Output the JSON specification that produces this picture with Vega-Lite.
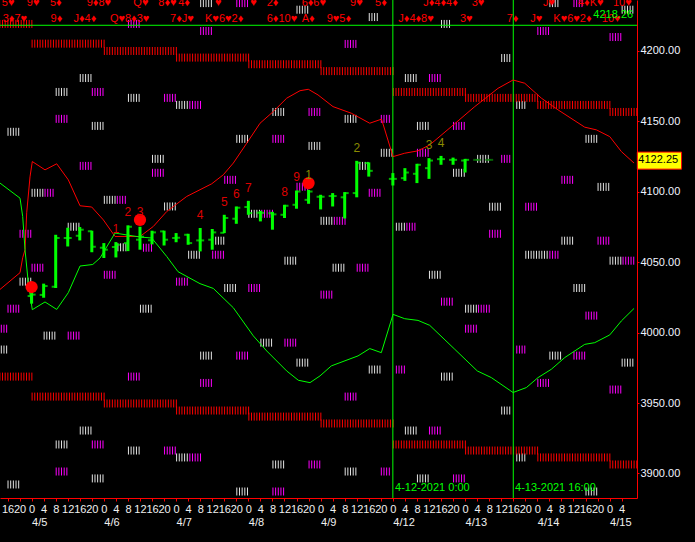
{
"$schema": "https://vega.github.io/schema/vega-lite/v6.json",
"width": 637, "height": 498,
"autosize": {"type": "none"},
"padding": {"left": 0, "top": 0, "right": 58, "bottom": 44},
"background": "#000000",
"config": {"view": {"stroke": null}},
"datasets": {
"bands": [
{"h":-10.5,"p":4030.7,"b":"u"},{"h":-3.85,"p":4042.6,"b":"u"},{"h":-2.96,"p":4053.2,"b":"u"},{"h":-2.19,"p":4058.9,"b":"u"},{"h":-1.63,"p":4085.1,"b":"u"},{"h":-0.53,"p":4110.6,"b":"u"},{"h":0.23,"p":4121.5,"b":"u"},{"h":4.45,"p":4115.6,"b":"u"},{"h":8.34,"p":4119.9,"b":"u"},{"h":12.19,"p":4108.5,"b":"u"},{"h":16.08,"p":4090.1,"b":"u"},{"h":19.97,"p":4089.2,"b":"u"},{"h":23.82,"p":4080.1,"b":"u"},{"h":27.71,"p":4068.3,"b":"u"},{"h":36.01,"p":4068.3,"b":"u"},{"h":40.43,"p":4075.4,"b":"u"},{"h":44.88,"p":4086.0,"b":"u"},{"h":51.52,"p":4096.7,"b":"u"},{"h":59.83,"p":4105.7,"b":"u"},{"h":63.68,"p":4112.1,"b":"u"},{"h":67.0,"p":4120.4,"b":"u"},{"h":71.46,"p":4134.5,"b":"u"},{"h":75.88,"p":4148.7,"b":"u"},{"h":80.29,"p":4157.0,"b":"u"},{"h":84.74,"p":4166.5,"b":"u"},{"h":89.16,"p":4171.8,"b":"u"},{"h":91.92,"p":4172.8,"b":"u"},{"h":95.14,"p":4168.8,"b":"u"},{"h":100.12,"p":4160.5,"b":"u"},{"h":106.2,"p":4155.8,"b":"u"},{"h":112.32,"p":4148.7,"b":"u"},{"h":116.24,"p":4151.6,"b":"u"},{"h":120.06,"p":4125.0,"b":"u"},{"h":123.94,"p":4127.4,"b":"u"},{"h":128.36,"p":4129.1,"b":"u"},{"h":132.25,"p":4133.3,"b":"u"},{"h":139.43,"p":4146.3,"b":"u"},{"h":147.2,"p":4160.5,"b":"u"},{"h":154.94,"p":4173.5,"b":"u"},{"h":159.93,"p":4179.4,"b":"u"},{"h":163.81,"p":4177.1,"b":"u"},{"h":169.33,"p":4166.5,"b":"u"},{"h":174.87,"p":4158.2,"b":"u"},{"h":183.74,"p":4145.9,"b":"u"},{"h":187.6,"p":4144.0,"b":"u"},{"h":192.05,"p":4139.2,"b":"u"},{"h":195.9,"p":4128.6,"b":"u"},{"h":200.12,"p":4120.4,"b":"u"},
{"h":-10.5,"p":4106.2,"b":"l"},{"h":-3.85,"p":4095.5,"b":"l"},{"h":-2.96,"p":4082.5,"b":"l"},{"h":-2.19,"p":4058.9,"b":"l"},{"h":-1.1,"p":4035.3,"b":"l"},{"h":0.23,"p":4016.3,"b":"l"},{"h":4.45,"p":4021.8,"b":"l"},{"h":8.34,"p":4016.5,"b":"l"},{"h":12.19,"p":4028.4,"b":"l"},{"h":16.08,"p":4047.3,"b":"l"},{"h":20.3,"p":4048.4,"b":"l"},{"h":22.72,"p":4053.0,"b":"l"},{"h":27.71,"p":4070.7,"b":"l"},{"h":36.01,"p":4067.9,"b":"l"},{"h":39.9,"p":4067.2,"b":"l"},{"h":44.88,"p":4054.1,"b":"l"},{"h":48.63,"p":4043.3,"b":"l"},{"h":55.94,"p":4034.8,"b":"l"},{"h":60.36,"p":4031.4,"b":"l"},{"h":67.0,"p":4017.7,"b":"l"},{"h":73.65,"p":3997.7,"b":"l"},{"h":78.1,"p":3987.0,"b":"l"},{"h":84.74,"p":3972.8,"b":"l"},{"h":88.6,"p":3966.2,"b":"l"},{"h":92.48,"p":3964.5,"b":"l"},{"h":95.8,"p":3969.3,"b":"l"},{"h":99.56,"p":3976.4,"b":"l"},{"h":108.43,"p":3983.5,"b":"l"},{"h":112.32,"p":3988.7,"b":"l"},{"h":116.17,"p":3985.8,"b":"l"},{"h":120.06,"p":4013.0,"b":"l"},{"h":123.94,"p":4009.9,"b":"l"},{"h":128.36,"p":4008.7,"b":"l"},{"h":132.25,"p":4005.2,"b":"l"},{"h":140.56,"p":3988.2,"b":"l"},{"h":148.06,"p":3972.8,"b":"l"},{"h":152.71,"p":3968.1,"b":"l"},{"h":159.93,"p":3957.5,"b":"l"},{"h":164.34,"p":3961.0,"b":"l"},{"h":168.23,"p":3968.1,"b":"l"},{"h":172.64,"p":3974.0,"b":"l"},{"h":177.09,"p":3982.3,"b":"l"},{"h":183.74,"p":3991.7,"b":"l"},{"h":187.06,"p":3992.9,"b":"l"},{"h":192.05,"p":3998.4,"b":"l"},{"h":195.9,"p":4008.3,"b":"l"},{"h":200.12,"p":4017.2,"b":"l"}
],
"bars": [
{"h":0,"o":4026.0,"hi":4030.0,"lo":4020.6,"cl":4027.0,"k":"live"},
{"h":4,"o":4026.8,"hi":4034.8,"lo":4024.8,"cl":4033.1,"k":"live"},
{"h":8,"o":4032.6,"hi":4069.5,"lo":4031.7,"cl":4067.2,"k":"live"},
{"h":12,"o":4067.2,"hi":4074.5,"lo":4061.2,"cl":4067.2,"k":"live"},
{"h":16,"o":4068.8,"hi":4075.0,"lo":4065.5,"cl":4073.1,"k":"live"},
{"h":20,"o":4072.0,"hi":4072.4,"lo":4057.1,"cl":4061.0,"k":"live"},
{"h":24,"o":4060.3,"hi":4063.6,"lo":4053.0,"cl":4058.9,"k":"live"},
{"h":28,"o":4060.8,"hi":4064.3,"lo":4053.4,"cl":4062.4,"k":"live"},
{"h":32,"o":4063.6,"hi":4076.2,"lo":4057.9,"cl":4075.2,"k":"live"},
{"h":36,"o":4066.0,"hi":4075.2,"lo":4058.9,"cl":4068.1,"k":"live"},
{"h":40,"o":4065.6,"hi":4072.4,"lo":4062.7,"cl":4071.2,"k":"live"},
{"h":44,"o":4071.9,"hi":4072.4,"lo":4061.9,"cl":4066.0,"k":"live"},
{"h":48,"o":4067.2,"hi":4070.7,"lo":4064.2,"cl":4067.4,"k":"live"},
{"h":52,"o":4069.5,"hi":4070.2,"lo":4062.4,"cl":4063.6,"k":"live"},
{"h":56,"o":4065.5,"hi":4074.3,"lo":4057.7,"cl":4065.5,"k":"live"},
{"h":60,"o":4066.0,"hi":4073.6,"lo":4058.9,"cl":4071.2,"k":"live"},
{"h":64,"o":4070.9,"hi":4083.7,"lo":4070.7,"cl":4081.4,"k":"live"},
{"h":68,"o":4080.9,"hi":4089.6,"lo":4077.3,"cl":4088.7,"k":"live"},
{"h":72,"o":4089.2,"hi":4093.6,"lo":4083.7,"cl":4084.9,"k":"live"},
{"h":76,"o":4085.1,"hi":4086.5,"lo":4079.0,"cl":4085.1,"k":"live"},
{"h":80,"o":4084.8,"hi":4085.8,"lo":4073.1,"cl":4084.0,"k":"live"},
{"h":84,"o":4083.7,"hi":4090.8,"lo":4081.4,"cl":4090.1,"k":"live"},
{"h":88,"o":4090.8,"hi":4100.9,"lo":4088.0,"cl":4100.2,"k":"live"},
{"h":92,"o":4094.3,"hi":4101.4,"lo":4091.5,"cl":4100.2,"k":"live"},
{"h":96,"o":4096.5,"hi":4097.9,"lo":4087.5,"cl":4096.5,"k":"live"},
{"h":100,"o":4097.0,"hi":4099.1,"lo":4089.6,"cl":4097.0,"k":"live"},
{"h":104,"o":4096.1,"hi":4099.8,"lo":4081.1,"cl":4099.1,"k":"live"},
{"h":108,"o":4099.1,"hi":4122.0,"lo":4096.1,"cl":4120.6,"k":"live"},
{"h":112,"o":4120.4,"hi":4120.9,"lo":4110.8,"cl":4114.9,"k":"live"},
{"h":120,"o":4109.2,"hi":4113.3,"lo":4104.5,"cl":4109.2,"k":"live"},
{"h":124,"o":4109.7,"hi":4116.8,"lo":4107.8,"cl":4113.7,"k":"live"},
{"h":128,"o":4112.8,"hi":4119.9,"lo":4106.2,"cl":4119.2,"k":"live"},
{"h":132,"o":4116.8,"hi":4123.9,"lo":4109.2,"cl":4122.2,"k":"live"},
{"h":136,"o":4123.2,"hi":4125.5,"lo":4119.2,"cl":4123.2,"k":"live"},
{"h":140,"o":4122.7,"hi":4124.3,"lo":4119.2,"cl":4122.7,"k":"live"},
{"h":144,"o":4122.2,"hi":4123.4,"lo":4113.7,"cl":4122.7,"k":"live"},
{"h":148,"o":4122.7,"hi":4123.2,"lo":4122.2,"cl":4122.7,"k":"proj"},
{"h":152,"o":4122.7,"hi":4123.0,"lo":4122.4,"cl":4122.7,"k":"proj"}
],
"glyphs": [
{"h":56,"p":4214.2,"n":5,"c":"m"},{"h":16,"p":4180.8,"n":5,"c":"w"},{"h":8,"p":4170.9,"n":5,"c":"w"},{"h":20,"p":4170.9,"n":5,"c":"m"},{"h":32,"p":4166.7,"n":5,"c":"w"},{"h":44,"p":4166.7,"n":5,"c":"m"},{"h":48,"p":4161.7,"n":5,"c":"w"},{"h":52.4,"p":4161.7,"n":5,"c":"m"},{"h":8,"p":4151.8,"n":5,"c":"m"},{"h":20,"p":4146.8,"n":5,"c":"w"},{"h":-8,"p":4142.6,"n":5,"c":"w"},{"h":80,"p":4156.7,"n":5,"c":"w"},{"h":92,"p":4156.7,"n":5,"c":"m"},{"h":68,"p":4137.6,"n":5,"c":"w"},{"h":80,"p":4137.6,"n":5,"c":"m"},{"h":92,"p":4132.6,"n":5,"c":"w"},{"h":40,"p":4123.4,"n":5,"c":"w"},{"h":40,"p":4113.5,"n":5,"c":"m"},{"h":16,"p":4118.4,"n":5,"c":"m"},{"h":64,"p":4108.5,"n":5,"c":"m"},{"h":0,"p":4099.3,"n":5,"c":"w"},{"h":4.3,"p":4099.3,"n":4,"c":"m"},{"h":24,"p":4094.3,"n":5,"c":"w"},{"h":28.3,"p":4094.3,"n":4,"c":"m"},{"h":44,"p":4089.6,"n":5,"c":"w"},{"h":12,"p":4075.2,"n":5,"c":"w"},{"h":-4,"p":4070.2,"n":5,"c":"m"},{"h":72,"p":4084.4,"n":5,"c":"w"},{"h":76.3,"p":4084.4,"n":5,"c":"m"},{"h":88,"p":4103.6,"n":5,"c":"m"},{"h":61,"p":4065.3,"n":4,"c":"w"},{"h":52,"p":4055.3,"n":5,"c":"w"},{"h":60,"p":4055.3,"n":5,"c":"m"},{"h":28.5,"p":4060.6,"n":4,"c":"w"},{"h":37,"p":4060.3,"n":4,"c":"m"},{"h":84,"p":4051.1,"n":5,"c":"w"},{"h":-4,"p":4036.2,"n":5,"c":"w"},{"h":0,"p":4046.1,"n":5,"c":"m"},{"h":24,"p":4041.1,"n":5,"c":"m"},{"h":48,"p":4036.2,"n":5,"c":"m"},{"h":64,"p":4031.7,"n":5,"c":"w"},{"h":72,"p":4031.7,"n":5,"c":"m"},{"h":-8,"p":4017.0,"n":5,"c":"m"},{"h":36,"p":4017.0,"n":5,"c":"w"},{"h":-12,"p":4002.8,"n":5,"c":"m"},{"h":4,"p":3997.9,"n":5,"c":"w"},{"h":12,"p":3997.9,"n":5,"c":"m"},{"h":-12,"p":3988.0,"n":5,"c":"w"},{"h":76,"p":3992.9,"n":5,"c":"w"},{"h":84,"p":3992.9,"n":5,"c":"m"},{"h":56,"p":3983.7,"n":5,"c":"w"},{"h":68,"p":3983.7,"n":5,"c":"m"},{"h":88,"p":3978.7,"n":5,"c":"w"},{"h":32,"p":3968.8,"n":5,"c":"m"},{"h":56,"p":3964.3,"n":5,"c":"m"},{"h":16,"p":3930.5,"n":5,"c":"w"},{"h":8,"p":3920.6,"n":5,"c":"w"},{"h":20,"p":3920.6,"n":5,"c":"m"},{"h":32,"p":3916.3,"n":5,"c":"w"},{"h":44,"p":3916.3,"n":5,"c":"m"},{"h":48,"p":3911.4,"n":5,"c":"w"},{"h":52.4,"p":3911.4,"n":5,"c":"m"},{"h":8,"p":3901.4,"n":5,"c":"m"},{"h":20,"p":3896.5,"n":5,"c":"w"},{"h":-8,"p":3892.2,"n":5,"c":"w"},{"h":80,"p":3906.4,"n":5,"c":"w"},{"h":92,"p":3906.4,"n":5,"c":"m"},{"h":68,"p":3887.2,"n":5,"c":"w"},{"h":80,"p":3887.2,"n":5,"c":"m"},
{"h":168,"p":4214.2,"n":5,"c":"m"},{"h":192,"p":4209.9,"n":5,"c":"m"},{"h":104,"p":4205.0,"n":5,"c":"m"},{"h":156,"p":4195.0,"n":4,"c":"w"},{"h":124,"p":4180.8,"n":5,"c":"w"},{"h":132,"p":4180.8,"n":5,"c":"m"},{"h":161,"p":4161.7,"n":4,"c":"w"},{"h":104,"p":4151.8,"n":5,"c":"w"},{"h":116,"p":4151.8,"n":4,"c":"m"},{"h":128,"p":4146.8,"n":5,"c":"w"},{"h":140,"p":4146.8,"n":5,"c":"m"},{"h":184,"p":4137.6,"n":5,"c":"w"},{"h":116,"p":4127.7,"n":5,"c":"w"},{"h":128,"p":4127.7,"n":5,"c":"m"},{"h":148,"p":4123.4,"n":5,"c":"w"},{"h":156,"p":4123.4,"n":4,"c":"m"},{"h":140,"p":4113.5,"n":5,"c":"w"},{"h":112,"p":4099.3,"n":5,"c":"m"},{"h":108,"p":4118.4,"n":5,"c":"w"},{"h":176,"p":4108.5,"n":5,"c":"m"},{"h":188,"p":4103.5,"n":5,"c":"w"},{"h":152,"p":4089.4,"n":5,"c":"w"},{"h":164,"p":4089.4,"n":5,"c":"m"},{"h":96,"p":4079.4,"n":5,"c":"w"},{"h":100.4,"p":4079.4,"n":5,"c":"m"},{"h":121,"p":4075.2,"n":4,"c":"w"},{"h":124.5,"p":4075.2,"n":4,"c":"m"},{"h":152,"p":4070.2,"n":5,"c":"m"},{"h":176,"p":4065.3,"n":5,"c":"w"},{"h":188,"p":4065.3,"n":5,"c":"m"},{"h":164,"p":4055.3,"n":9,"c":"w"},{"h":172,"p":4055.3,"n":4,"c":"m"},{"h":192,"p":4051.1,"n":5,"c":"w"},{"h":196.3,"p":4051.1,"n":5,"c":"m"},{"h":100,"p":4046.1,"n":5,"c":"w"},{"h":108,"p":4046.1,"n":5,"c":"m"},{"h":96,"p":4027.0,"n":5,"c":"m"},{"h":132,"p":4041.1,"n":5,"c":"w"},{"h":136,"p":4022.0,"n":5,"c":"m"},{"h":144,"p":4017.0,"n":5,"c":"w"},{"h":148.3,"p":4017.0,"n":5,"c":"m"},{"h":144,"p":4002.8,"n":5,"c":"m"},{"h":180,"p":4031.7,"n":5,"c":"w"},{"h":184,"p":4012.1,"n":5,"c":"m"},{"h":161,"p":3988.0,"n":4,"c":"m"},{"h":172,"p":3983.7,"n":5,"c":"w"},{"h":180,"p":3983.7,"n":5,"c":"m"},{"h":196,"p":3978.7,"n":5,"c":"w"},{"h":112,"p":3973.8,"n":5,"c":"w"},{"h":121,"p":3973.8,"n":4,"c":"m"},{"h":136,"p":3968.8,"n":5,"c":"w"},{"h":168,"p":3964.3,"n":5,"c":"m"},{"h":192,"p":3959.6,"n":5,"c":"m"},{"h":104,"p":3954.6,"n":5,"c":"m"},{"h":156,"p":3944.7,"n":4,"c":"w"},{"h":161,"p":3911.4,"n":4,"c":"w"},{"h":124,"p":3930.5,"n":5,"c":"w"},{"h":132,"p":3930.5,"n":5,"c":"m"},{"h":104,"p":3901.4,"n":5,"c":"w"},{"h":116,"p":3901.4,"n":4,"c":"m"},{"h":128,"p":3896.5,"n":5,"c":"w"},{"h":140,"p":3896.5,"n":5,"c":"m"},{"h":184,"p":3887.2,"n":5,"c":"w"},
{"h":56,"p":4234.0,"n":5,"c":"w"},{"h":68,"p":4234.0,"n":5,"c":"m"},{"h":88,"p":4229.3,"n":5,"c":"w"},{"h":112,"p":4224.1,"n":4,"c":"w"},{"h":136,"p":4219.2,"n":4,"c":"w"},{"h":172,"p":4234.0,"n":4,"c":"w"},{"h":180,"p":4234.0,"n":4,"c":"m"},{"h":196,"p":4229.3,"n":5,"c":"w"},{"h":32,"p":4219.2,"n":5,"c":"m"},
{"h":-24,"p":4219.2,"n":28,"c":"r"},{"h":0,"p":4205.2,"n":28,"c":"r"},{"h":24,"p":4200.0,"n":28,"c":"r"},{"h":48,"p":4195.3,"n":28,"c":"r"},{"h":72,"p":4190.6,"n":28,"c":"r"},{"h":96,"p":4185.7,"n":28,"c":"r"},{"h":120,"p":4170.9,"n":28,"c":"r"},{"h":144,"p":4166.7,"n":28,"c":"r"},{"h":168,"p":4161.7,"n":28,"c":"r"},{"h":192,"p":4156.7,"n":28,"c":"r"},
{"h":-24,"p":3968.8,"n":28,"c":"r"},{"h":0,"p":3954.6,"n":28,"c":"r"},{"h":24,"p":3949.7,"n":28,"c":"r"},{"h":48,"p":3944.7,"n":28,"c":"r"},{"h":72,"p":3940.4,"n":28,"c":"r"},{"h":96,"p":3935.5,"n":28,"c":"r"},{"h":120,"p":3920.6,"n":28,"c":"r"},{"h":144,"p":3916.3,"n":28,"c":"r"},{"h":168,"p":3911.4,"n":28,"c":"r"},{"h":192,"p":3906.4,"n":28,"c":"r"}
],
"cards": [
{"h":-9.9,"p":4231.7,"t":"5♥"},{"h":-1.6,"p":4231.7,"t":"9♥"},{"h":6.1,"p":4231.7,"t":"5♦"},{"h":18.3,"p":4231.7,"t":"9♦8♥"},{"h":33.8,"p":4231.7,"t":"Q♥"},{"h":42.1,"p":4231.7,"t":"8♦♥"},{"h":48.7,"p":4231.7,"t":"4♦"},{"h":60.9,"p":4231.7,"t":"♥"},{"h":72.6,"p":4231.7,"t":"♥"},{"h":78.1,"p":4231.7,"t":"2♦"},{"h":89.7,"p":4231.7,"t":"6♦6♥"},{"h":105.8,"p":4231.7,"t":"9♥"},{"h":114.1,"p":4231.7,"t":"5♦"},{"h":130.1,"p":4231.7,"t":"J♦4♦4♦"},{"h":146.2,"p":4231.7,"t":"3♥"},{"h":169.9,"p":4231.7,"t":"J♥"},{"h":181.5,"p":4231.7,"t":"4♦K♥"},{"h":193.1,"p":4231.7,"t":"10♥"},
{"h":-9.6,"p":4220.8,"t":"3♦7♥"},{"h":6.3,"p":4220.8,"t":"9♦"},{"h":13.9,"p":4220.8,"t":"J♦4♦"},{"h":26.0,"p":4220.8,"t":"Q♥8♦3♥"},{"h":46.0,"p":4220.8,"t":"7♦J♥"},{"h":57.6,"p":4220.8,"t":"K♥6♥2♦"},{"h":78.1,"p":4220.8,"t":"6♦10♥"},{"h":89.7,"p":4220.8,"t":"A♦"},{"h":98.0,"p":4220.8,"t":"9♥5♦"},{"h":121.8,"p":4220.8,"t":"J♦4♦8♥"},{"h":142.3,"p":4220.8,"t":"3♥"},{"h":157.8,"p":4220.8,"t":"7♦"},{"h":165.6,"p":4220.8,"t":"J♥"},{"h":173.3,"p":4220.8,"t":"K♥6♥2♦"},{"h":189.4,"p":4220.8,"t":"10♥"}
],
"nums": [
{"h":28,"p":4073.6,"t":"1","c":"r"},{"h":32,"p":4085.6,"t":"2","c":"r"},{"h":36,"p":4085.6,"t":"3","c":"r"},{"h":56,"p":4083.7,"t":"4","c":"r"},{"h":64,"p":4092.7,"t":"5","c":"r"},{"h":68,"p":4098.6,"t":"6","c":"r"},{"h":72,"p":4102.6,"t":"7","c":"r"},{"h":84,"p":4100.2,"t":"8","c":"r"},{"h":88,"p":4110.2,"t":"9","c":"r"},
{"h":92,"p":4112.1,"t":"1","c":"o"},{"h":108,"p":4131.4,"t":"2","c":"o"},{"h":132,"p":4133.3,"t":"3","c":"o"},{"h":136,"p":4134.5,"t":"4","c":"o"}
],
"dots": [{"h":0,"p":4032.4},{"h":36,"p":4080.1},{"h":92,"p":4106.2}],
"greentext": [
{"h":120.73,"p":3889.9,"t":"4-12-2021 0:00"},{"h":160.6,"p":3889.9,"t":"4-13-2021 16:00"},{"h":186.6,"p":4225.5,"t":"4218.26"}
]
},
"layer": [
{"data": {"name": "glyphs"},
 "mark": {"type": "point", "filled": false, "strokeWidth": 1, "size": 4, "opacity": 1, "clip": true},
 "encoding": {
  "x": {"field": "h", "type": "quantitative", "scale": {"domain": [-10.5, 201.1], "nice": false, "zero": false}, "axis": null},
  "y": {"field": "p", "type": "quantitative", "scale": {"domain": [3882.6, 4236.2], "nice": false, "zero": false}, "axis": null},
  "shape": {"field": "n", "type": "nominal", "legend": null, "scale": {"domain": [4, 5, 9, 28], "range": [
    "M0.5,-4V4M3.17,-4V4M5.83,-4V4M8.5,-4V4",
    "M0.5,-4V4M3.17,-4V4M5.83,-4V4M8.5,-4V4M11.17,-4V4",
    "M0.5,-4V4M3.17,-4V4M5.83,-4V4M8.5,-4V4M11.17,-4V4M13.83,-4V4M16.5,-4V4M19.17,-4V4M21.83,-4V4",
    "M0.5,-4V4M3.17,-4V4M5.83,-4V4M8.5,-4V4M11.17,-4V4M13.83,-4V4M16.5,-4V4M19.17,-4V4M21.83,-4V4M24.5,-4V4M27.17,-4V4M29.83,-4V4M32.5,-4V4M35.17,-4V4M37.83,-4V4M40.5,-4V4M43.17,-4V4M45.83,-4V4M48.5,-4V4M51.17,-4V4M53.83,-4V4M56.5,-4V4M59.17,-4V4M61.83,-4V4M64.5,-4V4M67.17,-4V4M69.83,-4V4M72.5,-4V4"]}},
  "color": {"field": "c", "type": "nominal", "scale": {"domain": ["w", "m", "r"], "range": ["#e4e4e4", "#ff00ff", "#ff0000"]}, "legend": null}
 }},
{"data": {"name": "cards"},
 "mark": {"type": "text", "align": "left", "baseline": "alphabetic", "font": "Liberation Sans", "fontSize": 11, "color": "#ff0000", "clip": true},
 "encoding": {
  "x": {"field": "h", "type": "quantitative", "axis": null},
  "y": {"field": "p", "type": "quantitative", "axis": null},
  "text": {"field": "t"}
 }},
{"data": {"values": [{"h": 120}, {"h": 160}]},
 "mark": {"type": "rule", "color": "#00ff00", "strokeWidth": 1},
 "encoding": {"x": {"field": "h", "type": "quantitative", "axis": null}}},
{"data": {"values": [{"p": 4218.26}]},
 "mark": {"type": "rule", "color": "#00ff00", "strokeWidth": 1},
 "encoding": {"y": {"field": "p", "type": "quantitative", "axis": null}}},
{"data": {"name": "greentext"},
 "mark": {"type": "text", "align": "left", "baseline": "middle", "font": "Liberation Sans", "fontSize": 11, "color": "#00ff00"},
 "encoding": {
  "x": {"field": "h", "type": "quantitative", "axis": null},
  "y": {"field": "p", "type": "quantitative", "axis": null},
  "text": {"field": "t"}
 }},
{"data": {"name": "bands"},
 "mark": {"type": "line", "strokeWidth": 1, "clip": true},
 "encoding": {
  "x": {"field": "h", "type": "quantitative",
        "axis": {"orient": "bottom", "values": [0, 24, 48, 72, 96, 120, 144, 168, 192],
                 "labelExpr": "['4/5','4/6','4/7','4/8','4/9','4/12','4/13','4/14','4/15'][datum.value / 24]",
                 "title": null, "domain": false, "ticks": false, "grid": false, "labelAlign": "left",
                 "labelPadding": 18, "labelColor": "#f0f0f0", "labelFont": "Liberation Sans", "labelFontSize": 11,
                 "labelOverlap": false, "labelFlush": false}},
  "y": {"field": "p", "type": "quantitative",
        "axis": {"orient": "right", "values": [3900, 3950, 4000, 4050, 4100, 4150, 4200], "format": ".2f",
                 "title": null, "domain": true, "domainColor": "#ff0000", "tickColor": "#ff0000", "tickSize": 2,
                 "labelPadding": 1, "labelColor": "#f0f4ff", "labelFont": "Liberation Sans", "labelFontSize": 11,
                 "grid": false, "labelOverlap": false, "labelFlush": false}},
  "color": {"field": "b", "type": "nominal", "scale": {"domain": ["u", "l"], "range": ["#ff0000", "#00ff00"]}, "legend": null}
 }},
{"data": {"name": "bars"},
 "mark": {"type": "rule", "strokeWidth": 3},
 "encoding": {
  "x": {"field": "h", "type": "quantitative",
        "axis": {"orient": "bottom", "values": [-8,-4,0,4,8,12,16,20,24,28,32,36,40,44,48,52,56,60,64,68,72,76,80,84,88,92,96,100,104,108,112,116,120,124,128,132,136,140,144,148,152,156,160,164,168,172,176,180,184,188,192,196],
                 "labelExpr": "'' + (((datum.value % 24) + 24) % 24)",
                 "title": null, "domain": true, "domainColor": "#ff0000", "ticks": true, "tickColor": "#ff0000", "tickSize": 3,
                 "grid": false, "labelPadding": 2, "labelColor": "#f0f0f0", "labelFont": "Liberation Sans", "labelFontSize": 11,
                 "labelOverlap": false, "labelFlush": false}},
  "y": {"field": "lo", "type": "quantitative", "axis": null},
  "y2": {"field": "hi"},
  "color": {"field": "k", "type": "nominal", "scale": {"domain": ["live", "proj"], "range": ["#00ff00", "#0a8a0a"]}, "legend": null}
 }},
{"data": {"name": "bars"},
 "mark": {"type": "tick", "orient": "horizontal", "size": 4, "thickness": 2, "xOffset": -2},
 "encoding": {
  "x": {"field": "h", "type": "quantitative", "axis": null},
  "y": {"field": "o", "type": "quantitative", "axis": null},
  "color": {"field": "k", "type": "nominal", "scale": {"domain": ["live", "proj"], "range": ["#00ff00", "#0a8a0a"]}, "legend": null}
 }},
{"data": {"name": "bars"},
 "mark": {"type": "tick", "orient": "horizontal", "size": 4, "thickness": 2, "xOffset": 2},
 "encoding": {
  "x": {"field": "h", "type": "quantitative", "axis": null},
  "y": {"field": "cl", "type": "quantitative", "axis": null},
  "color": {"field": "k", "type": "nominal", "scale": {"domain": ["live", "proj"], "range": ["#00ff00", "#0a8a0a"]}, "legend": null}
 }},
{"data": {"name": "dots"},
 "mark": {"type": "point", "shape": "circle", "filled": true, "size": 150, "color": "#ff0000", "opacity": 1},
 "encoding": {
  "x": {"field": "h", "type": "quantitative", "axis": null},
  "y": {"field": "p", "type": "quantitative", "axis": null}
 }},
{"data": {"name": "nums"},
 "mark": {"type": "text", "align": "center", "baseline": "middle", "font": "Liberation Sans", "fontSize": 12},
 "encoding": {
  "x": {"field": "h", "type": "quantitative", "axis": null},
  "y": {"field": "p", "type": "quantitative", "axis": null},
  "text": {"field": "t"},
  "color": {"field": "c", "type": "nominal", "scale": {"domain": ["r", "o"], "range": ["#dd0000", "#8b8b00"]}, "legend": null}
 }},
{"data": {"values": [{"h": 201.2, "h2": 215.9, "p": 4116.1, "p2": 4128.2}]},
 "mark": {"type": "rect", "fill": "#ffff00", "stroke": "#ff0000", "strokeWidth": 1},
 "encoding": {
  "x": {"field": "h", "type": "quantitative", "axis": null},
  "x2": {"field": "h2"},
  "y": {"field": "p", "type": "quantitative", "axis": null},
  "y2": {"field": "p2"}
 }},
{"data": {"values": [{"h": 201.55, "p": 4122.25, "t": "4122.25"}]},
 "mark": {"type": "text", "align": "left", "baseline": "middle", "font": "Liberation Sans", "fontSize": 11, "color": "#000000"},
 "encoding": {
  "x": {"field": "h", "type": "quantitative", "axis": null},
  "y": {"field": "p", "type": "quantitative", "axis": null},
  "text": {"field": "t"}
 }}
],
"resolve": {"scale": {"color": "independent", "shape": "independent"}, "axis": {"x": "independent", "y": "independent"}}
}
